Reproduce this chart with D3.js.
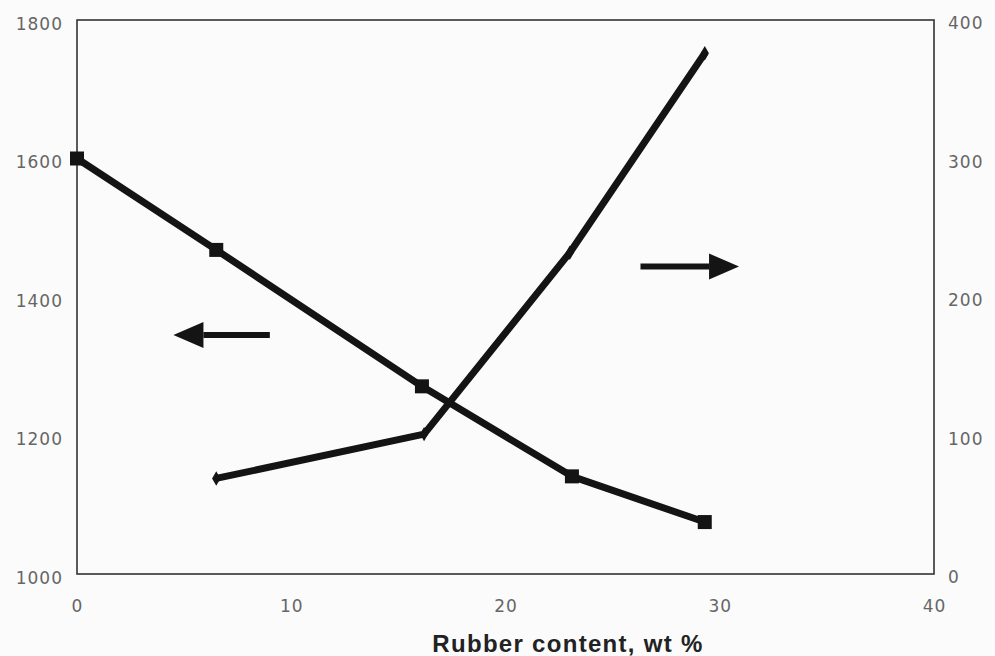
<!DOCTYPE html>
<html>
<head>
<meta charset="utf-8">
<script src="https://cdn.jsdelivr.net/npm/d3@7"></script>
<style>
  body { margin: 0; background: #fbfbfb; }
  svg { display: block; }
</style>
</head>
<body>
<div id="chart"></div>
<script>
const W = 995, H = 656;
const margins = {top: 20, bottom: 82, left: 77, right: 61};

// rubber content, wt %
const rubberLeft = [0, 6.5, 16.1, 23.1, 29.3];
const leftValues = [1600, 1468, 1271, 1141, 1075];   // left axis series (squares)
const rubberRight = [6.5, 16.2, 23, 29.3];
const rightValues = [69, 101, 232, 376];              // right axis series

const xTicks = [0, 10, 20, 30, 40];
const leftTicks = [1000, 1200, 1400, 1600, 1800];
const rightTicks = [0, 100, 200, 300, 400];
const xLabel = "Rubber content, wt %";

const width = W - margins.left - margins.right;
const height = H - margins.top - margins.bottom;

const svg = d3.select('#chart').append('svg').attr('width', W).attr('height', H)
  .append('g').attr('transform', `translate(${margins.left}, ${margins.top})`);

const x = d3.scaleLinear().domain([0, 40]).range([0, width]);
const yL = d3.scaleLinear().domain([1000, 1800]).range([height, 0]);
const yR = d3.scaleLinear().domain([0, 400]).range([height, 0]);

const tickFont = 'DejaVu Sans, sans-serif';

// frame
svg.append('rect')
  .attr('x', 0).attr('y', 0).attr('width', width).attr('height', height)
  .attr('fill', 'none').attr('stroke', '#333').attr('stroke-width', 1.6);

// axes (labels only, no tick marks)
const styleAxis = g => {
  g.select('.domain').remove();
  g.selectAll('.tick line').remove();
  g.selectAll('.tick text')
    .style('font-family', tickFont).style('font-size', '17px')
    .style('letter-spacing', '1px').attr('fill', '#666');
};

svg.append('g').attr('transform', `translate(0, ${height})`)
  .call(d3.axisBottom(x).tickValues(xTicks).tickFormat(d3.format('d')).tickSize(0).tickPadding(26))
  .call(styleAxis);

svg.append('g')
  .call(d3.axisLeft(yL).tickValues(leftTicks).tickFormat(d3.format('d')).tickSize(0).tickPadding(14))
  .call(styleAxis)
  .selectAll('.tick text').attr('dy', '0.55em');

svg.append('g').attr('transform', `translate(${width}, 0)`)
  .call(d3.axisRight(yR).tickValues(rightTicks).tickFormat(d3.format('d')).tickSize(0).tickPadding(14))
  .call(styleAxis)
  .selectAll('.tick text').attr('dy', '0.5em');

// left-axis series
const leftData = rubberLeft.map((r, i) => ({r, v: leftValues[i]}));
svg.append('path').datum(leftData)
  .attr('fill', 'none').attr('stroke', '#141414').attr('stroke-width', 7)
  .attr('stroke-linejoin', 'round')
  .attr('d', d3.line().x(d => x(d.r)).y(d => yL(d.v)));

svg.selectAll('.sq').data(leftData).enter().append('rect')
  .attr('class', 'sq')
  .attr('x', d => x(d.r) - 7).attr('y', d => yL(d.v) - 7)
  .attr('width', 14).attr('height', 14).attr('fill', '#141414');

// right-axis series
const rightData = rubberRight.map((r, i) => ({r, v: rightValues[i]}));
svg.append('path').datum(rightData)
  .attr('fill', 'none').attr('stroke', '#141414').attr('stroke-width', 7)
  .attr('stroke-linejoin', 'round')
  .attr('d', d3.line().x(d => x(d.r)).y(d => yR(d.v)));

svg.selectAll('.mk').data(rightData).enter().append('path')
  .attr('class', 'mk')
  .attr('transform', d => `translate(${x(d.r)}, ${yR(d.v)})`)
  .attr('d', d3.symbol().type(d3.symbolDiamond).size(60))
  .attr('fill', '#141414');

// arrows indicating axes
function arrow(x1, x2, yv) {
  const dir = Math.sign(x2 - x1);
  const headLen = 30, headHalf = 13;
  svg.append('line')
    .attr('x1', x1).attr('x2', x2 - dir * headLen)
    .attr('y1', yv).attr('y2', yv)
    .attr('stroke', '#141414').attr('stroke-width', 6);
  svg.append('path')
    .attr('d', `M${x2},${yv} L${x2 - dir * headLen},${yv - headHalf} L${x2 - dir * headLen},${yv + headHalf} Z`)
    .attr('fill', '#141414');
}
// left arrow: points at left axis
arrow(x(9), x(4.5), yL(1345));
// right arrow: points at right axis
arrow(x(26.3), x(30.9), yR(222));

// x axis title
svg.append('text')
  .attr('x', 491).attr('y', height + 78)
  .attr('text-anchor', 'middle')
  .style('font-family', 'Liberation Sans, Arial, sans-serif')
  .style('font-size', '24px').style('font-weight', 'bold')
  .style('letter-spacing', '1.3px')
  .attr('fill', '#222')
  .text(xLabel);
</script>
</body>
</html>
